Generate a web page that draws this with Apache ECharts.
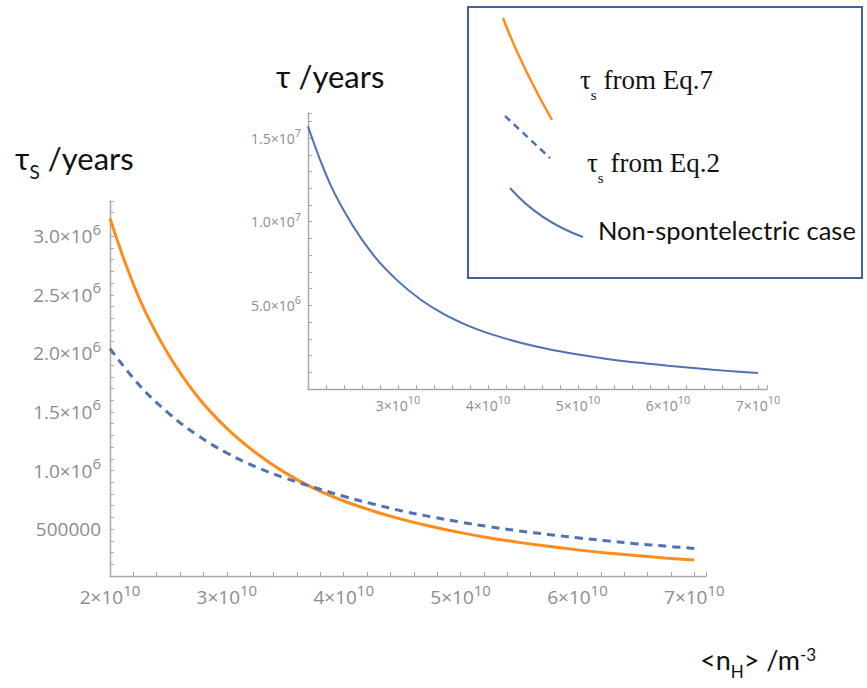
<!DOCTYPE html>
<html><head><meta charset="utf-8">
<script src="https://cdn.jsdelivr.net/npm/echarts@6.0.0/dist/echarts.min.js"></script>
<style>html,body{margin:0;padding:0;background:#fff}#c{width:867px;height:688px}</style>
</head><body><div id="c"></div>
<script>
// ---- data ----
const nH = [2.0e10, 2.25e10, 2.5e10, 2.75e10, 3.0e10, 3.25e10, 3.5e10, 3.75e10, 4.0e10, 4.25e10, 4.5e10,
            4.75e10, 5.0e10, 5.25e10, 5.5e10, 5.75e10, 6.0e10, 6.25e10, 6.5e10, 6.75e10, 7.0e10];
const tauEq7 = [3.15e6, 2.47e6, 1.99e6, 1.63e6, 1.36e6, 1.15e6, 0.98e6, 0.845e6, 0.74e6, 0.655e6, 0.583e6,
                0.522e6, 0.47e6, 0.425e6, 0.387e6, 0.353e6, 0.323e6, 0.297e6, 0.274e6, 0.254e6, 0.236e6];
const tauEq2 = [2.04e6, 1.73e6, 1.49e6, 1.30e6, 1.15e6, 1.03e6, 0.935e6, 0.855e6, 0.78e6, 0.715e6, 0.655e6,
                0.605e6, 0.56e6, 0.52e6, 0.485e6, 0.455e6, 0.426e6, 0.40e6, 0.376e6, 0.355e6, 0.335e6];
const tauNonSpont = [15.7e6, 12.2e6, 9.75e6, 7.85e6, 6.45e6, 5.35e6, 4.5e6, 3.85e6, 3.34e6, 2.93e6, 2.58e6,
                     2.30e6, 2.06e6, 1.86e6, 1.68e6, 1.53e6, 1.39e6, 1.27e6, 1.15e6, 1.05e6, 0.95e6];

const mainXTicks = [2e10, 3e10, 4e10, 5e10, 6e10, 7e10];
const mainXLabels = ['2×10^10', '3×10^10', '4×10^10', '5×10^10', '6×10^10', '7×10^10'];
const mainYTicks = [5e5, 1e6, 1.5e6, 2e6, 2.5e6, 3e6];
const mainYLabels = ['500000', '1.0×10^6', '1.5×10^6', '2.0×10^6', '2.5×10^6', '3.0×10^6'];
const insetXTicks = [3e10, 4e10, 5e10, 6e10, 7e10];
const insetXLabels = ['3×10^10', '4×10^10', '5×10^10', '6×10^10', '7×10^10'];
const insetYTicks = [5e6, 1e7, 1.5e7];
const insetYLabels = ['5.0×10^6', '1.0×10^7', '1.5×10^7'];
const seriesNames = ['τs from Eq.7', 'τs from Eq.2', 'Non-spontelectric case'];

// ---- styling ----
const axisGray = '#a6a6a6';
const labelGray = '#8c8c8c';
const orange = '#FF8C1A';
const blue = '#4E72B4';
const sansTitle = 'Lato, "Open Sans", sans-serif';

function tickFormatter(ticks, labels) {
  return function (v) {
    for (let i = 0; i < ticks.length; i++) {
      if (Math.abs(v - ticks[i]) <= Math.abs(ticks[i]) * 1e-6) {
        const p = labels[i].split('^');
        return p.length > 1 ? '{m|' + p[0] + '}{e|' + p[1] + '}' : '{m|' + p[0] + '}';
      }
    }
    return '';
  };
}
function labelRich(size) {
  return {
    m: { fontFamily: 'Open Sans', fontSize: size, color: labelGray, lineHeight: Math.round(size * 1.6) },
    e: { fontFamily: 'Open Sans', fontSize: Math.round(size * 0.78), color: labelGray,
         lineHeight: Math.round(size * 0.85), verticalAlign: 'top' }
  };
}
function valueAxis(extra) {
  return Object.assign({
    type: 'value', scale: true,
    axisLine: { show: true, lineStyle: { color: axisGray, width: 1.4 } },
    axisTick: { show: true, inside: true, length: 4, lineStyle: { color: axisGray, width: 1 } },
    splitLine: { show: false }
  }, extra);
}
function tok(family, size, lineHeight, valign) {
  const s = { fontFamily: family, fontSize: size, fontWeight: 'normal', color: '#111', lineHeight: lineHeight };
  if (valign) s.verticalAlign = valign;
  return s;
}

const chart = echarts.init(document.getElementById('c'), null, { renderer: 'svg', width: 867, height: 688 });

const option = {
  backgroundColor: '#ffffff',
  animation: false,
  grid: [
    { left: 110, top: 201, width: 596, height: 375, containLabel: false, outerBoundsMode: 'none' },
    { left: 308, top: 113, width: 459, height: 276, containLabel: false, outerBoundsMode: 'none' }
  ],
  xAxis: [
    valueAxis({ gridIndex: 0, min: 2e10, max: 7.1e10, interval: 2e9,
      axisLabel: { margin: 6, formatter: tickFormatter(mainXTicks, mainXLabels), rich: labelRich(19) } }),
    valueAxis({ gridIndex: 1, min: 2e10, max: 7.1e10, interval: 2e9,
      axisLabel: { margin: 5, formatter: tickFormatter(insetXTicks, insetXLabels), rich: labelRich(14) } })
  ],
  yAxis: [
    valueAxis({ gridIndex: 0, min: 1e5, max: 3.3e6, interval: 1e5,
      axisLabel: { margin: 9, formatter: tickFormatter(mainYTicks, mainYLabels), rich: labelRich(19) } }),
    valueAxis({ gridIndex: 1, min: 0, max: 16.5e6, interval: 1e6,
      axisLabel: { margin: 7, formatter: tickFormatter(insetYTicks, insetYLabels), rich: labelRich(14) } })
  ],
  title: [
    { text: '{t|τ}{s|S}{t| /years}', left: 15, top: 142, padding: 0,
      textStyle: { fontWeight: 'normal', rich: { t: tok(sansTitle, 31, 36, 'top'), s: tok(sansTitle, 19, 58) } } },
    { text: '{t|τ /years}', left: 276, top: 58, padding: 0,
      textStyle: { fontWeight: 'normal', rich: { t: tok(sansTitle, 31, 36) } } },
    { text: '{t|<n}{s|H}{t|> /m}{p|-3}', left: 700, top: 646, padding: 0,
      textStyle: { fontWeight: 'normal', rich: {
        t: tok(sansTitle, 27, 34, 'top'), s: tok(sansTitle, 17, 50), p: tok(sansTitle, 17, 12, 'top') } } },
    { text: '{t|τ}{s|s}{t| from Eq.7}', left: 580, top: 66, padding: 0,
      textStyle: { fontWeight: 'normal', rich: { t: tok('Liberation Serif', 27, 30, 'top'), s: tok('Liberation Serif', 15, 58) } } },
    { text: '{t|τ}{s|s}{t| from Eq.2}', left: 587, top: 149, padding: 0,
      textStyle: { fontWeight: 'normal', rich: { t: tok('Liberation Serif', 27, 30, 'top'), s: tok('Liberation Serif', 15, 58) } } },
    { text: '{t|' + seriesNames[2] + '}', left: 598, top: 214, padding: 0,
      textStyle: { fontWeight: 'normal', rich: { t: tok(sansTitle, 25.5, 32) } } }
  ],
  graphic: [
    { type: 'rect', shape: { x: 468, y: 7, width: 394, height: 271 },
      style: { fill: 'none', stroke: '#41629E', lineWidth: 2 }, z: 10 },
    { type: 'bezierCurve', shape: { x1: 503, y1: 18, cpx1: 520, cpy1: 63, x2: 552, y2: 120 },
      style: { fill: 'none', stroke: orange, lineWidth: 2.5 }, z: 10 },
    { type: 'line', shape: { x1: 505, y1: 116, x2: 550, y2: 158 },
      style: { stroke: blue, lineWidth: 2.5, lineDash: [7, 5] }, z: 10 },
    { type: 'bezierCurve', shape: { x1: 510, y1: 188, cpx1: 539, cpy1: 221, x2: 583, y2: 237 },
      style: { fill: 'none', stroke: blue, lineWidth: 2 }, z: 10 }
  ],
  series: [
    { name: seriesNames[0], type: 'line', xAxisIndex: 0, yAxisIndex: 0, smooth: 0.4, showSymbol: false,
      data: nH.map((x, i) => [x, tauEq7[i]]), lineStyle: { color: orange, width: 3 }, itemStyle: { color: orange } },
    { name: seriesNames[1], type: 'line', xAxisIndex: 0, yAxisIndex: 0, smooth: 0.4, showSymbol: false,
      data: nH.map((x, i) => [x, tauEq2[i]]), lineStyle: { color: blue, width: 3, type: [8, 6] }, itemStyle: { color: blue } },
    { name: seriesNames[2], type: 'line', xAxisIndex: 1, yAxisIndex: 1, smooth: 0.4, showSymbol: false,
      data: nH.map((x, i) => [x, tauNonSpont[i]]), lineStyle: { color: blue, width: 2 }, itemStyle: { color: blue } }
  ]
};
chart.setOption(option);
</script>
</body></html>
